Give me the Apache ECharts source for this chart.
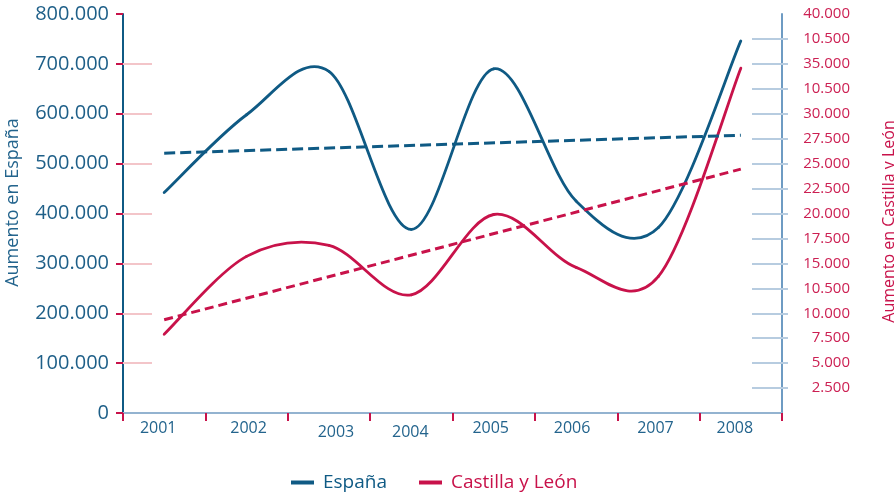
<!DOCTYPE html>
<html>
<head>
<meta charset="utf-8">
<script src="https://cdn.jsdelivr.net/npm/echarts@6/dist/echarts.min.js"></script>
<style>
  html, body { margin: 0; padding: 0; background: #ffffff; }
  #chart { width: 894px; height: 498px; }
</style>
</head>
<body>
<div id="chart"></div>
<script>
// ---- data ----
const years = ['2001', '2002', '2003', '2004', '2005', '2006', '2007', '2008'];
const espana = [442000, 598000, 685000, 368000, 690000, 425000, 372000, 746000];
const castilla = [7900, 15700, 16800, 11850, 19900, 14600, 13700, 34570];
// dashed trend lines: value at 2001 and at 2008
const espanaTrend = [521000, 557000];
const castillaTrend = [9350, 24450];
// right-axis tick labels exactly as printed (0, 2.500, ..., 40.000)
const rightTickLabels = ['', '2.500', '5.000', '7.500', '10.000', '10.500', '15.000', '17.500',
  '20.000', '22.500', '25.000', '27.500', '30.000', '10.500', '35.000', '10.500', '40.000'];
const leftTickStep = 100000;
const rightTickStep = 2500;

// ---- styling ----
const BLUE = '#0f5a84';
const RED = '#c8124a';
const FONT = 'Open Sans';
const LINE_W = 2.8;
// small per-label nudges of the year labels [dx, dy] (as printed)
const labelNudge = [[-6, 0], [2, -2], [7, 2], [-1, 2], [-3, 0], [-4, -2], [-3, 0], [-6, -3]];

function thousands(v) {
  return String(v).replace(/\B(?=(\d{3})+(?!\d))/g, '.');
}

const rich = {};
labelNudge.forEach(function (n, i) {
  const dx = n[0], dy = n[1];
  rich['y' + i] = {
    fontFamily: FONT, fontSize: 16, color: '#23648d',
    padding: [Math.max(dy, 0) * 2, Math.max(-dx, 0) * 2, Math.max(-dy, 0) * 2, Math.max(dx, 0) * 2]
  };
});

const pinkTicks = [];
for (let v = leftTickStep; v <= 700000; v += leftTickStep) pinkTicks.push(v);
const blueTicks = [];
for (let v = rightTickStep; v <= 37500; v += rightTickStep) blueTicks.push(v);

// Smoothed line (Catmull-Rom style, like the spreadsheet original) drawn segment by
// segment; every point goes through the chart's own axes via api.coord.
function smoothRenderer(values, color) {
  const n = values.length;
  return function (params, api) {
    const i = params.dataIndex;
    if (i >= n - 1) return null;
    const pt = function (k) {
      const j = Math.max(0, Math.min(n - 1, k));
      return api.coord([j, values[j]]);
    };
    const p0 = pt(i - 1), p1 = pt(i), p2 = pt(i + 1), p3 = pt(i + 2);
    const t = 1 / 6;
    return {
      type: 'bezierCurve',
      shape: {
        x1: p1[0], y1: p1[1], x2: p2[0], y2: p2[1],
        cpx1: p1[0] + (p2[0] - p0[0]) * t, cpy1: p1[1] + (p2[1] - p0[1]) * t,
        cpx2: p2[0] - (p3[0] - p1[0]) * t, cpy2: p2[1] - (p3[1] - p1[1]) * t
      },
      style: { stroke: color, lineWidth: LINE_W, fill: null, lineCap: 'round', lineJoin: 'round' }
    };
  };
}

const chart = echarts.init(document.getElementById('chart'), null, { renderer: 'canvas' });
chart.setOption({
  animation: false,
  backgroundColor: '#ffffff',
  textStyle: { fontFamily: FONT },
  grid: { left: 123, right: 112, top: 14, bottom: 85, containLabel: false, outerBoundsMode: 'none' },
  legend: {
    left: 291,
    top: 473,
    padding: 0,
    itemWidth: 23,
    itemHeight: 4,
    itemGap: 32,
    icon: 'rect',
    data: [
      { name: 'España', itemStyle: { color: BLUE }, textStyle: { color: BLUE } },
      { name: 'Castilla y León', itemStyle: { color: RED }, textStyle: { color: RED } }
    ],
    textStyle: { fontFamily: FONT, fontSize: 19, padding: [0, 0, 0, 4] }
  },
  xAxis: [
    {
      type: 'category',
      data: years,
      boundaryGap: true,
      position: 'bottom',
      axisLine: { show: true, lineStyle: { color: '#1d5a80', width: 2 } },
      axisTick: { show: true, length: 8, lineStyle: { color: RED, width: 2 } },
      axisLabel: {
        margin: 7,
        formatter: function (v, i) { return '{y' + i + '|' + v + '}'; },
        rich: rich
      },
      splitLine: { show: false }
    },
    {
      type: 'category',
      data: years,
      position: 'top',
      axisLine: { show: true, lineStyle: { color: '#93b3d0', width: 2 } },
      axisTick: { show: false },
      axisLabel: { show: false },
      splitLine: { show: false }
    }
  ],
  yAxis: [
    {
      type: 'value',
      position: 'left',
      min: 0, max: 800000, interval: leftTickStep,
      name: 'Aumento en España',
      nameLocation: 'middle',
      nameGap: 101,
      nameTextStyle: { color: '#23648d', fontSize: 18, fontFamily: FONT, padding: [0, 0, 0, 22] },
      axisLine: { show: true, lineStyle: { color: '#0f5a84', width: 2 } },
      axisTick: { show: true, inside: false, length: 7, lineStyle: { color: RED, width: 2 } },
      axisLabel: { margin: 14, fontSize: 20, color: '#1e5f88', fontFamily: FONT, formatter: thousands },
      splitLine: { show: false }
    },
    {
      type: 'value',
      position: 'left',
      offset: 0,
      min: 0, max: 800000, interval: leftTickStep,
      axisLine: { show: false },
      axisTick: { show: true, inside: true, length: 29, customValues: pinkTicks, lineStyle: { color: '#f3c5c9', width: 2 } },
      axisLabel: { show: false },
      splitLine: { show: false }
    },
    {
      type: 'value',
      position: 'right',
      min: 0, max: 40000, interval: rightTickStep,
      name: 'Aumento en Castilla y León',
      nameLocation: 'middle',
      nameGap: 99,
      nameTextStyle: { color: RED, fontSize: 16, fontFamily: FONT, padding: [0, 16, 0, 0] },
      axisLine: { show: true, lineStyle: { color: '#6e9bc3', width: 2 } },
      axisTick: { show: false },
      axisLabel: {
        margin: 68, align: 'right', fontSize: 15, color: '#cc1f52', fontFamily: FONT,
        formatter: function (v) { return rightTickLabels[Math.round(v / rightTickStep)] || ''; }
      },
      splitLine: { show: false }
    },
    {
      type: 'value',
      position: 'right',
      offset: 6,
      min: 0, max: 40000, interval: rightTickStep,
      axisLine: { show: false },
      axisTick: { show: true, inside: true, length: 36, customValues: blueTicks, lineStyle: { color: '#b7cce0', width: 2 } },
      axisLabel: { show: false },
      splitLine: { show: false }
    }
  ],
  series: [
    {
      name: 'España trend',
      type: 'line',
      yAxisIndex: 0,
      data: [[years[0], espanaTrend[0]], [years[years.length - 1], espanaTrend[1]]],
      symbol: 'none',
      lineStyle: { color: BLUE, width: 3, type: [11, 5] },
      itemStyle: { color: BLUE },
      silent: true
    },
    {
      name: 'Castilla trend',
      type: 'line',
      yAxisIndex: 2,
      data: [[years[0], castillaTrend[0]], [years[years.length - 1], castillaTrend[1]]],
      symbol: 'none',
      lineStyle: { color: RED, width: 3, type: [9, 5] },
      itemStyle: { color: RED },
      silent: true
    },
    {
      name: 'España',
      type: 'custom',
      xAxisIndex: 0,
      yAxisIndex: 0,
      data: espana.map(function (v, i) { return [i, v]; }),
      encode: { x: 0, y: 1 },
      itemStyle: { color: BLUE },
      renderItem: smoothRenderer(espana, BLUE),
      silent: true
    },
    {
      name: 'Castilla y León',
      type: 'custom',
      xAxisIndex: 0,
      yAxisIndex: 2,
      data: castilla.map(function (v, i) { return [i, v]; }),
      encode: { x: 0, y: 1 },
      itemStyle: { color: RED },
      renderItem: smoothRenderer(castilla, RED),
      silent: true
    }
  ]
});
</script>
</body>
</html>
